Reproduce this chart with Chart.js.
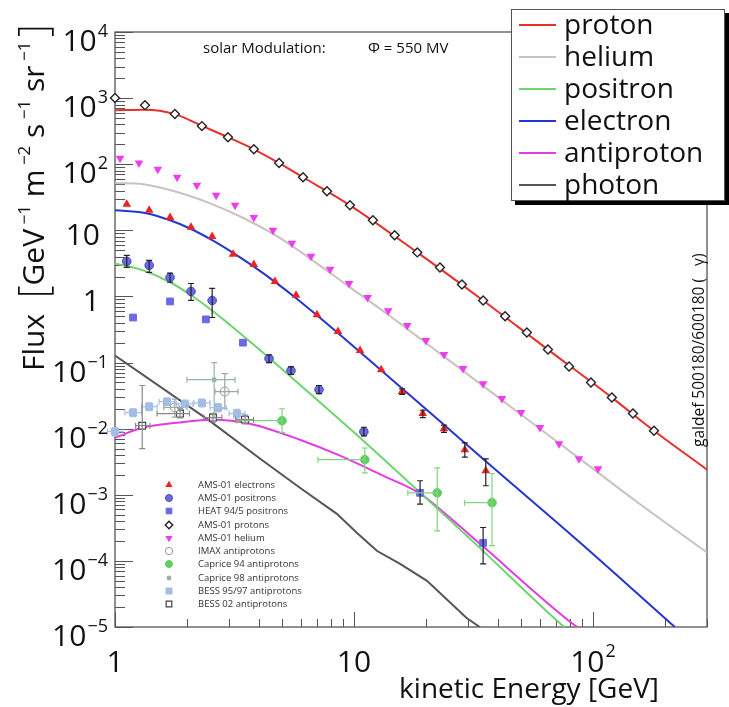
<!DOCTYPE html>
<html><head><meta charset="utf-8">
<script src="https://cdn.jsdelivr.net/npm/chart.js@4.4.1/dist/chart.umd.min.js"></script>
<style>html,body{margin:0;padding:0;background:#fff;}canvas{display:block;}</style>
</head><body>
<canvas id="c" width="729" height="707"></canvas>
<script>
// ===== model curves (GALPROP, galdef 500180/600180) =====
const protonCurveE = [1,1.33,1.78,2.31,2.97,3.81,4.86,6.12,9.62,18.4,34.7,64.8,120,180,300];
const protonCurveF = [658,668,573,380,256,168,104,63.5,23.9,4.64,0.87,0.157,0.0295,0.0093,0.0024];
const heliumCurveE = [1,1.31,1.82,2.5,3.43,4.76,5.94,9.53,13.9,20,28.6,41.6,60,87.4,150,300];
const heliumCurveF = [51.6,49.8,38.0,25.6,15.5,8.17,4.8,1.41,0.528,0.198,0.0748,0.027,0.00995,0.00359,0.00082,0.000134];
const positronCurveE = [1,1.31,1.70,2.06,2.5,3.03,3.67,4.41,6.54,11.0,18.9,33.7,72.5,76];
const positronCurveF = [3.16,2.48,1.64,1.07,0.647,0.371,0.208,0.118,0.034,0.00647,0.00108,0.000156,0.0000115,0.00001];
const electronCurveE = [1,1.37,1.70,2.06,2.54,3.12,3.81,4.67,5.76,7.0,8.57,10.6,15.9,22.9,36,88.2,220];
const electronCurveF = [20.1,18.0,14.2,10.67,7.16,4.56,2.82,1.66,0.925,0.519,0.280,0.145,0.0406,0.0129,0.0031,0.00019,0.00001];
const antiprotonCurveE = [1,1.31,1.82,2.57,3.67,5.94,8.74,12.8,18.9,25,33.7,82.5,86];
const antiprotonCurveF = [0.0073,0.0104,0.0123,0.0137,0.0119,0.0068,0.0039,0.00205,0.00104,0.00046,0.000181,0.0000111,0.00001];
const photonCurveE = [1,2.5,4.05,5.94,8.48,10.3,12.5,15.6,20.2,29.6,33.6];
const photonCurveF = [0.128,0.013,0.0035,0.00128,0.000515,0.000265,0.000141,0.00009,0.00005,0.0000137,0.00001];

// ===== measurements =====
const amsElectronE = [1.12,1.39,1.70,2.08,2.55,3.12,3.81,4.67,5.72,7.0,8.57,10.6,13.0,15.9,19.4,23.8,29.1,35.6];
const amsElectronF = [24.8,20.1,15.7,11.1,8.1,4.33,3.05,1.69,1.04,0.53,0.295,0.152,0.078,0.0364,0.0169,0.0100,0.0048,0.0023];
const amsElectronLo = [null,null,null,null,null,null,null,null,null,null,null,null,null,0.033,0.0147,0.0088,0.0037,0.00137];
const amsElectronHi = [null,null,null,null,null,null,null,null,null,null,null,null,null,0.040,0.0190,0.0113,0.0061,0.0035];

const amsPositronE = [1.12,1.39,1.70,2.08,2.55,4.41,5.45,7.14,11.0];
const amsPositronF = [3.39,2.95,1.94,1.19,0.87,0.115,0.0757,0.039,0.009];
const amsPositronLo = [2.75,2.31,1.64,0.87,0.48,0.100,0.066,0.034,0.0078];
const amsPositronHi = [4.18,3.51,2.26,1.57,1.32,0.130,0.086,0.045,0.0105];

const heatE = [1.19,1.70,2.40,3.43,18.9,34.7];
const heatF = [0.48,0.84,0.45,0.20,0.00107,0.000187];
const heatLo = [null,null,null,null,0.00072,0.00009];
const heatHi = [null,null,null,null,0.00163,0.00032];

const amsProtonE = [1.00,1.335,1.78,2.31,2.97,3.81,4.86,6.12,7.71,9.62,12.0,14.8,18.4,22.9,28.3,34.7,42.9,52.9,64.8,79.4,98.1,120,147,180];
const amsProtonF = [1000,783,573,377,256,169,104,63.5,39,23.9,14.2,8.4,4.64,2.75,1.52,0.87,0.50,0.285,0.157,0.087,0.050,0.0295,0.0169,0.0093];

const amsHeliumE = [1.05,1.26,1.51,1.82,2.2,2.65,3.18,3.81,4.58,5.5,6.61,7.94,9.53,11.4,13.9,16.7,20.0,23.8,28.6,34.7,41.6,50.0,60.0,72.1,87.4,105];
const amsHeliumF = [123,104,84,63.5,48,33.9,23.9,15.7,10,6.35,4.04,2.57,1.57,0.966,0.61,0.364,0.215,0.132,0.081,0.048,0.0285,0.0175,0.0104,0.0059,0.0035,0.00248];

const imaxE = [1.78,2.88];
const imaxF = [0.021,0.0364];
const imaxLo = [0.015,0.020];
const imaxHi = [0.028,0.068];
const imaxELo = [1.6,2.62];
const imaxEHi = [2.0,3.27];

const caprice94E = [5.0,11.1,22.3,37.8];
const caprice94F = [0.0132,0.0034,0.00107,0.00076];
const caprice94Lo = [0.0087,0.00215,0.000285,0.00017];
const caprice94Hi = [0.020,0.0051,0.00255,0.0021];
const caprice94ELo = [3.24,7.07,16.8,29.0];
const caprice94EHi = [5.0,11.1,22.3,37.8];

const caprice98E = [2.6];
const caprice98F = [0.055];
const caprice98Lo = [0.0145];
const caprice98Hi = [0.10];
const caprice98ELo = [2.0];
const caprice98EHi = [3.18];

const bess9597E = [1.0,1.19,1.39,1.65,1.96,2.31,2.70,3.24];
const bess9597F = [0.009,0.0175,0.0215,0.0256,0.0237,0.0245,0.0208,0.0169];
const bess9597Lo = [0.0078,0.0152,0.0188,0.0225,0.0208,0.0214,0.0180,0.0146];
const bess9597Hi = [0.0104,0.0200,0.0245,0.0290,0.0270,0.0280,0.0240,0.0196];
const bess9597ELo = [0.93,1.10,1.29,1.53,1.81,2.14,2.50,3.00];
const bess9597EHi = [1.08,1.29,1.50,1.78,2.12,2.50,2.92,3.50];

const bess02E = [1.30,1.87,2.57,3.5];
const bess02F = [0.0111,0.0169,0.0147,0.0137];
const bess02Lo = [0.005,0.0145,0.0125,0.0118];
const bess02Hi = [0.045,0.020,0.017,0.016];
const bess02ELo = [1.22,1.50,2.35,3.2];
const bess02EHi = [1.40,2.05,2.80,3.8];

// ===== axis ticks and texts =====
const xDecades = [0,1,2];
const yDecades = [-5,-4,-3,-2,-1,0,1,2,3,4];
const curveLegendLabels = ['proton','helium','positron','electron','antiproton','photon'];
const dataLegendLabels = ['AMS-01 electrons','AMS-01 positrons','HEAT 94/5 positrons','AMS-01 protons','AMS-01 helium','IMAX antiprotons','Caprice 94 antiprotons','Caprice 98 antiprotons','BESS 95/97 antiprotons','BESS 02 antiprotons'];
const xTitle = 'kinetic Energy [GeV]';
const modulationText = 'solar Modulation:';
const phiText = 'Φ = 550 MV';
const galdefText = 'galdef 500180/600180 (   γ)';

const FONT = '"Open Sans", "DejaVu Sans", sans-serif';
const xy = (E, F) => E.map((e, i) => ({x: e, y: F[i]}));

const COL = {
  proton: '#e8302a', helium: '#c9c2bf', positron: '#6fd46f', electron: '#2436d2',
  antiproton: '#e43ce4', photon: '#555555'
};

function curve(label, E, F, color, mono) {
  return {label, data: xy(E, F), showLine: true, borderColor: color, backgroundColor: color,
    borderWidth: 2, pointRadius: 0, fill: false,
    cubicInterpolationMode: mono ? 'monotone' : 'default', tension: 0, order: 3};
}
function pts(label, E, F, st) {
  return Object.assign({label, data: xy(E, F), showLine: false, order: 1, clip: false,
    pointBorderWidth: 1}, st);
}

const markerStyles = [
  {pointStyle: 'triangle', pointRadius: 5, backgroundColor: '#ee2222', borderColor: '#ee2222', pointBorderWidth: 0},
  {pointStyle: 'circle', pointRadius: 4.3, backgroundColor: '#6a6ae6', borderColor: '#4b4bb8'},
  {pointStyle: 'rect', pointRadius: 4.8, backgroundColor: '#6a6ae6', borderColor: '#6a6ae6'},
  {pointStyle: 'rectRot', pointRadius: 4.5, backgroundColor: '#ffffff', borderColor: '#222222', pointBorderWidth: 1.4},
  {pointStyle: 'triangle', pointRotation: 180, pointRadius: 5, backgroundColor: '#f03cf0', borderColor: '#f03cf0', pointBorderWidth: 0},
  {pointStyle: 'circle', pointRadius: 4.5, backgroundColor: '#ffffff', borderColor: '#8a9a90', pointBorderWidth: 1},
  {pointStyle: 'circle', pointRadius: 4.3, backgroundColor: '#62cc62', borderColor: '#62cc62'},
  {pointStyle: 'star', pointRadius: 3, backgroundColor: '#8fb0a8', borderColor: '#8fb0a8', pointBorderWidth: 1.2},
  {pointStyle: 'rect', pointRadius: 5, backgroundColor: '#a2bae6', borderColor: '#a2bae6'},
  {pointStyle: 'rect', pointRadius: 4.8, backgroundColor: '#ffffff', borderColor: '#444444', pointBorderWidth: 1.2}
];

const datasets = [
  curve('proton', protonCurveE, protonCurveF, COL.proton, true),
  curve('helium', heliumCurveE, heliumCurveF, COL.helium, true),
  curve('positron', positronCurveE, positronCurveF, COL.positron, true),
  curve('electron', electronCurveE, electronCurveF, COL.electron, true),
  curve('antiproton', antiprotonCurveE, antiprotonCurveF, COL.antiproton, true),
  curve('photon', photonCurveE, photonCurveF, COL.photon, false),
  pts(dataLegendLabels[0], amsElectronE, amsElectronF, markerStyles[0]),
  pts(dataLegendLabels[1], amsPositronE, amsPositronF, markerStyles[1]),
  pts(dataLegendLabels[2], heatE, heatF, markerStyles[2]),
  pts(dataLegendLabels[3], amsProtonE, amsProtonF, markerStyles[3]),
  pts(dataLegendLabels[4], amsHeliumE, amsHeliumF, markerStyles[4]),
  pts(dataLegendLabels[5], imaxE, imaxF, markerStyles[5]),
  pts(dataLegendLabels[6], caprice94E, caprice94F, markerStyles[6]),
  pts(dataLegendLabels[7], caprice98E, caprice98F, markerStyles[7]),
  pts(dataLegendLabels[8], bess9597E, bess9597F, markerStyles[8]),
  pts(dataLegendLabels[9], bess02E, bess02F, markerStyles[9])
];

const errorSets = [
  {E: amsElectronE, F: amsElectronF, lo: amsElectronLo, hi: amsElectronHi, color: '#222'},
  {E: amsPositronE, F: amsPositronF, lo: amsPositronLo, hi: amsPositronHi, color: '#222'},
  {E: heatE, F: heatF, lo: heatLo, hi: heatHi, color: '#222'},
  {E: imaxE, F: imaxF, lo: imaxLo, hi: imaxHi, elo: imaxELo, ehi: imaxEHi, color: '#9aaa9f'},
  {E: caprice94E, F: caprice94F, lo: caprice94Lo, hi: caprice94Hi, elo: caprice94ELo, ehi: caprice94EHi, color: '#7fd47f'},
  {E: caprice98E, F: caprice98F, lo: caprice98Lo, hi: caprice98Hi, elo: caprice98ELo, ehi: caprice98EHi, color: '#9ab5a8'},
  {E: bess9597E, F: bess9597F, lo: bess9597Lo, hi: bess9597Hi, elo: bess9597ELo, ehi: bess9597EHi, color: '#a8c0e6'},
  {E: bess02E, F: bess02F, lo: bess02Lo, hi: bess02Hi, elo: bess02ELo, ehi: bess02EHi, color: '#8a8a8a'}
];

const errorBarPlugin = {
  id: 'errorBars',
  afterDatasetsDraw(chart) {
    const {ctx, scales: {x, y}} = chart;
    ctx.save();
    ctx.lineWidth = 1.2;
    errorSets.forEach(s => {
      ctx.strokeStyle = s.color;
      s.E.forEach((e, i) => {
        const px = x.getPixelForValue(e), py = y.getPixelForValue(s.F[i]);
        if (s.lo && s.lo[i] != null) {
          const a = y.getPixelForValue(s.lo[i]), b = y.getPixelForValue(s.hi[i]);
          ctx.beginPath();
          ctx.moveTo(px, a); ctx.lineTo(px, b);
          ctx.moveTo(px - 3, a); ctx.lineTo(px + 3, a);
          ctx.moveTo(px - 3, b); ctx.lineTo(px + 3, b);
          ctx.stroke();
        }
        if (s.elo && s.elo[i] != null) {
          const a = x.getPixelForValue(s.elo[i]), b = x.getPixelForValue(s.ehi[i]);
          ctx.beginPath();
          ctx.moveTo(a, py); ctx.lineTo(b, py);
          ctx.moveTo(a, py - 3); ctx.lineTo(a, py + 3);
          if (b - px > 2) { ctx.moveTo(b, py - 3); ctx.lineTo(b, py + 3); }
          ctx.stroke();
        }
      });
    });
    ctx.restore();
  }
};

const framePlugin = {
  id: 'frame',
  beforeDatasetsDraw(chart) {
    const {ctx, chartArea: ca, scales: {x, y}} = chart;
    ctx.save();
    ctx.strokeStyle = '#555';
    ctx.lineWidth = 1.3;
    ctx.strokeRect(ca.left, ca.top, ca.right - ca.left, ca.bottom - ca.top);
    ctx.lineWidth = 1;
    ctx.beginPath();
    for (let d = -5; d <= 4; d++) {
      for (let k = 1; k <= 9; k++) {
        const v = k * Math.pow(10, d);
        if (v > 1e4 * 1.0001) continue;
        const py = Math.round(y.getPixelForValue(v)) + 0.5;
        const len = k === 1 ? 18 : 10;
        ctx.moveTo(ca.left, py); ctx.lineTo(ca.left + len, py);
      }
    }
    for (let d = 0; d <= 2; d++) {
      for (let k = 1; k <= 9; k++) {
        const v = k * Math.pow(10, d);
        if (v > 300) continue;
        const px = Math.round(x.getPixelForValue(v)) + 0.5;
        const len = k === 1 ? 15 : 8;
        ctx.moveTo(px, ca.bottom); ctx.lineTo(px, ca.bottom - len);
      }
    }
    ctx.stroke();
    ctx.restore();
  }
};

function drawPow(ctx, exp, xRight, baseY, baseFont, supFont, supDy) {
  ctx.font = supFont;
  const ws = ctx.measureText(exp).width;
  ctx.textAlign = 'right';
  ctx.fillText(exp, xRight, baseY + supDy);
  ctx.font = baseFont;
  ctx.fillText('10', xRight - ws - 1, baseY);
}

const textPlugin = {
  id: 'texts',
  afterDraw(chart) {
    const {ctx, chartArea: ca, scales: {x, y}} = chart;
    ctx.save();
    ctx.fillStyle = '#111';
    ctx.textBaseline = 'alphabetic';
    const base = '30px ' + FONT, sup = '18px ' + FONT;
    yDecades.forEach(d => {
      const py = y.getPixelForValue(Math.pow(10, d));
      if (d === 0 || d === 1) {
        ctx.font = base; ctx.textAlign = 'right';
        ctx.fillText(d === 0 ? '1' : '10', 100, py + 15);
      } else {
        drawPow(ctx, d < 0 ? '\u2212' + (-d) : String(d), 108, py + 19, base, sup, -14);
      }
    });
    xDecades.forEach(d => {
      const px = x.getPixelForValue(Math.pow(10, d));
      ctx.font = base; ctx.textAlign = 'center';
      if (d === 0) ctx.fillText('1', px, 672);
      else if (d === 1) ctx.fillText('10', px, 672);
      else {
        ctx.font = sup; const ws = ctx.measureText(String(d)).width;
        ctx.font = base; const wb = ctx.measureText('10').width;
        const left = px - (wb + ws + 1) / 2;
        ctx.textAlign = 'left';
        ctx.fillText('10', left, 672);
        ctx.font = sup; ctx.fillText(String(d), left + wb + 1, 657);
      }
    });
    ctx.font = '28px ' + FONT; ctx.textAlign = 'right';
    ctx.fillText(xTitle, 659, 698);
    ctx.save();
    ctx.translate(44, 371);
    ctx.rotate(-Math.PI / 2);
    ctx.textAlign = 'left';
    const big = '30px ' + FONT, sm = '17px ' + FONT, br = '300 40px ' + FONT;
    const parts = [
      ['Flux', big, 0], ['  ', big, 0], ['[', br, 3], ['GeV', big, 0], [' ', sm, 0], ['\u22121', sm, -14],
      [' m', big, 0], [' ', sm, 0], ['\u22122', sm, -14], [' s', big, 0], [' ', sm, 0], ['\u22121', sm, -14],
      [' sr', big, 0], [' ', sm, 0], ['\u22121', sm, -14], [' ', sm, 0], [']', br, 3]
    ];
    let cx = 0;
    parts.forEach(([t, f, dy]) => { ctx.font = f; ctx.fillText(t, cx, dy); cx += ctx.measureText(t).width; });
    ctx.restore();
    ctx.font = '15px ' + FONT; ctx.textAlign = 'left';
    ctx.fillText(modulationText, 203, 53);
    ctx.fillText(phiText, 368, 53);
    ctx.save();
    ctx.translate(704, 447);
    ctx.rotate(-Math.PI / 2);
    ctx.font = '15.5px ' + FONT; ctx.textAlign = 'left';
    ctx.fillText(galdefText, 0, 0);
    ctx.restore();
    const rowY = [485, 498, 511, 525, 538, 551, 564, 578, 591, 604];
    dataLegendLabels.forEach((lab, i) => {
      const st = markerStyles[i];
      ctx.save();
      ctx.fillStyle = st.backgroundColor; ctx.strokeStyle = st.borderColor;
      ctx.lineWidth = st.pointBorderWidth != null ? st.pointBorderWidth : 1;
      Chart.helpers.drawPoint(ctx, {pointStyle: st.pointStyle, rotation: st.pointRotation || 0,
        radius: Math.max(2.5, st.pointRadius - 0.8), borderWidth: st.pointBorderWidth != null ? st.pointBorderWidth : 1}, 169, rowY[i]);
      ctx.restore();
      ctx.font = '9.5px ' + FONT; ctx.fillStyle = '#333'; ctx.textAlign = 'left'; ctx.textBaseline = 'middle';
      ctx.fillText(lab, 198, rowY[i]);
    });
    ctx.textBaseline = 'alphabetic';
    ctx.fillStyle = '#000';
    ctx.fillRect(515, 196, 214, 9);
    ctx.fillRect(724, 13, 5, 192);
    ctx.fillStyle = '#fff';
    ctx.fillRect(511, 9, 213, 191);
    ctx.strokeStyle = '#555'; ctx.lineWidth = 1;
    ctx.strokeRect(511.5, 9.5, 213, 191);
    const legY = [25, 57, 89, 121, 153, 185];
    const legCol = [COL.proton, COL.helium, COL.positron, COL.electron, COL.antiproton, COL.photon];
    curveLegendLabels.forEach((lab, i) => {
      ctx.strokeStyle = legCol[i]; ctx.lineWidth = 2;
      ctx.beginPath(); ctx.moveTo(519, legY[i]); ctx.lineTo(556, legY[i]); ctx.stroke();
      ctx.fillStyle = '#111'; ctx.font = '28px ' + FONT; ctx.textAlign = 'left';
      ctx.fillText(lab, 564, legY[i] + 9);
    });
    ctx.restore();
  }
};

new Chart(document.getElementById('c'), {
  type: 'scatter',
  data: {datasets},
  options: {
    responsive: false,
    animation: false,
    devicePixelRatio: 1,
    events: [],
    layout: {padding: {left: 115, right: 22, top: 32, bottom: 80}},
    plugins: {legend: {display: false}, tooltip: {enabled: false}},
    scales: {
      x: {type: 'logarithmic', min: 1, max: 300, display: false},
      y: {type: 'logarithmic', min: 1e-5, max: 1e4, display: false}
    }
  },
  plugins: [framePlugin, errorBarPlugin, textPlugin]
});
</script>
</body></html>
